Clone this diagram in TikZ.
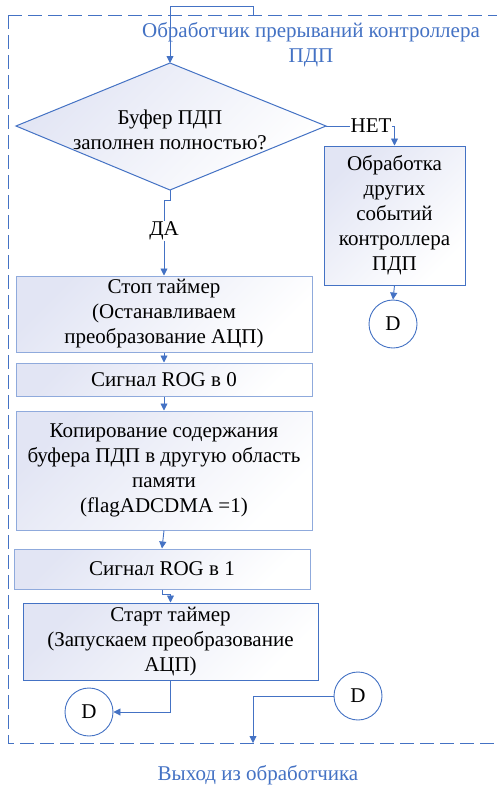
\documentclass[tikz,border=0pt]{standalone}
\usepackage{fontspec}
\setmainfont{Liberation Serif}
\newfontfamily\timesfont{Liberation Serif}
\usetikzlibrary{arrows.meta}
\definecolor{lineblue}{HTML}{4472C4}
\definecolor{lightblue}{HTML}{8FAADC}
\definecolor{lav}{HTML}{E2E5F4}
\begin{document}
\begin{tikzpicture}[x=1pt,y=1pt,
  font=\timesfont\fontsize{21}{25}\selectfont,
  conn/.style={draw=lineblue,line width=0.9pt,-{Triangle[length=7pt,width=7pt]}},
  procbox/.style={rectangle,draw=lightblue,line width=1pt,top color=lav,bottom color=white,shading angle=45,align=center,inner sep=2pt},
  darkbox/.style={procbox,draw=lineblue},
  decshade/.style={draw=lineblue,line width=1pt,top color=lav,bottom color=white,shading angle=45},
  conncircle/.style={circle,draw=lineblue,line width=0.9pt,fill=white,minimum size=48pt,inner sep=0pt},
  bluetext/.style={text=lineblue,align=center},
  lbl/.style={fill=white,inner sep=1pt}
]
\useasboundingbox (0,0) rectangle (496,-785);
\fill[white] (0,0) rectangle (496,-785);
% dashed frame
\draw[lineblue,line width=1pt,dash pattern=on 14pt off 6pt] (8,-15) -- (8,-743) -- (510,-743);
\draw[lineblue,line width=1pt,dash pattern=on 14pt off 6pt] (8,-15) -- (510,-15);
\node[bluetext] (title) at (311,-45) {Обработчик прерываний контроллера\\ПДП};
\node[bluetext] (exitlbl) at (258,-775) {Выход из обработчика};

\coordinate (entry) at (253,-15);
\coordinate (exitpt) at (253,-743);

% decision diamond
\coordinate (dian) at (170,-63);
\coordinate (diae) at (326,-126);
\coordinate (dias) at (170,-190);
\coordinate (diaw) at (16,-126);
\path[decshade] (dian) -- (diae) -- (dias) -- (diaw) -- cycle;
\node[align=center] (dia) at (170,-130) {Буфер ПДП\\заполнен полностью?};

\node[darkbox,minimum width=141pt,minimum height=139pt,text width=135pt] (other) at (394.5,-215.5) {Обработка\\других\\событий\\контроллера\\ПДП};
\node[conncircle] (d1) at (393,-324) {D};

\node[procbox,minimum width=296pt,minimum height=76pt] (b1) at (164,-314) {Стоп таймер\\(Останавливаем\\преобразование АЦП)};
\node[procbox,minimum width=296pt,minimum height=33pt] (b2) at (164,-379.5) {Сигнал ROG в 0};
\node[procbox,minimum width=296pt,minimum height=119pt] (b3) at (164,-470.5) {Копирование содержания\\буфера ПДП в другую область\\памяти\\(flagADCDMA =1)};
\node[procbox,minimum width=296pt,minimum height=40pt] (b4) at (162,-569) {Сигнал ROG в 1};
\node[darkbox,minimum width=295pt,minimum height=77pt] (b5) at (170.5,-641.5) {Старт таймер\\(Запускаем преобразование\\АЦП)};
\node[conncircle] (d2) at (89,-712) {D};
\node[conncircle] (d3) at (358,-696) {D};

% connectors
\draw[conn] (entry) -- (253,-6) -| (dian);
\draw[conn] (diae) -| (other.north);
\node[lbl] (net) at (371,-126) {НЕТ};
\draw[conn] (dias) -- (170,-200) -| (b1.north);
\node[lbl] (da) at (164,-231) {ДА};
\draw[conn] (other.south) -- (d1.north);
\draw[conn] (b1.south) -- (b2.north);
\draw[conn] (b2.south) -- (b3.north);
\draw[conn] (b3.south) -- (b4.north);
\draw[conn] (b4.south) -- (162,-594) -| (b5.north);
\draw[conn] (b5.south) |- (d2.east);
\draw[conn] (d3.west) -| (exitpt);
\end{tikzpicture}
\end{document}
